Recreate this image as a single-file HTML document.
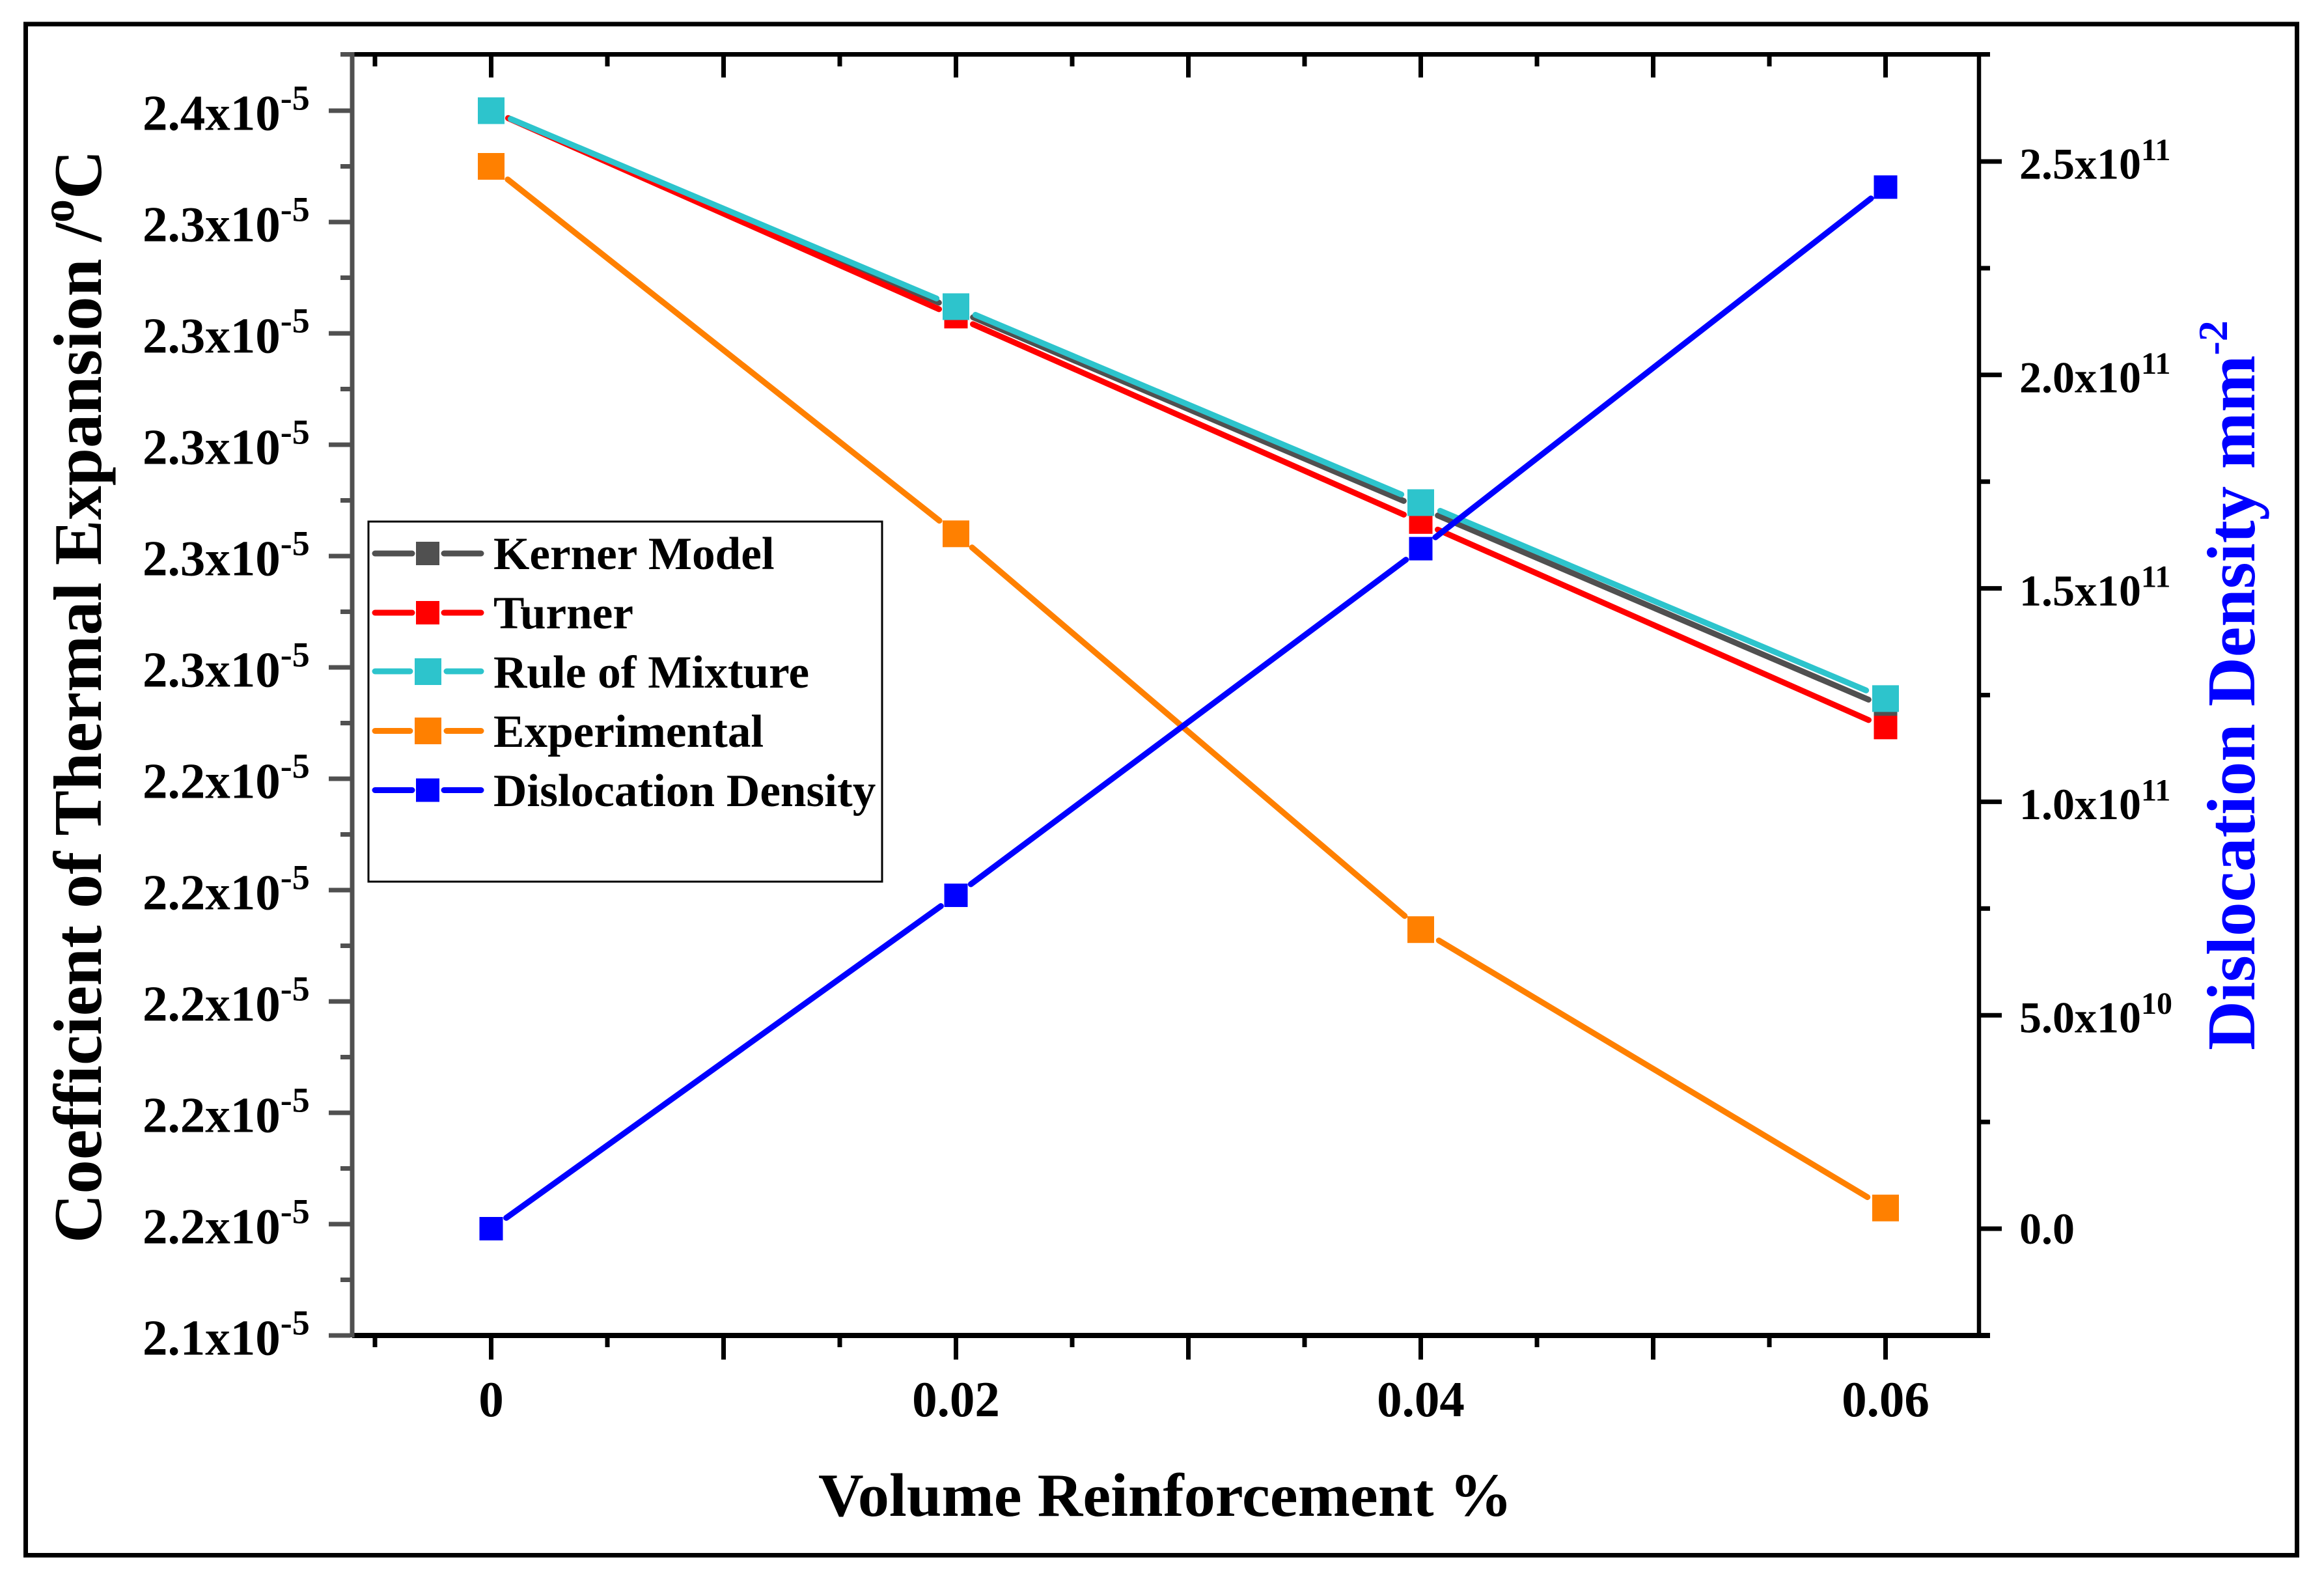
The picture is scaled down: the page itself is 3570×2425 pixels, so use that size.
<!DOCTYPE html>
<html lang="en">
<head>
<meta charset="utf-8">
<title>Coefficient of Thermal Expansion and Dislocation Density</title>
<style>
html,body{margin:0;padding:0;background:#fff;}
svg{display:block;}
text{font-family:"Liberation Serif",serif;font-weight:bold;fill:#000;}
</style>
</head>
<body>
<svg id="chart" xmlns="http://www.w3.org/2000/svg" width="3570" height="2425" viewBox="0 0 3570 2425">
  <rect x="0" y="0" width="3570" height="2425" fill="#fff"/>
  <rect x="39.5" y="37" width="3489" height="2351.5" fill="none" stroke="#000" stroke-width="7"/>
  <g id="axes"></g>
  <g id="series"></g>

  <text x="1257" y="2328" font-size="94.5" textLength="1066" lengthAdjust="spacingAndGlyphs">Volume Reinforcement %</text>
  <text transform="translate(155 1909) rotate(-90)" font-size="104.6">Coefficient of Thermal Expansion /<tspan font-size="72" dy="-42">o</tspan><tspan dy="42">C</tspan></text>
  <text transform="translate(3463 1613) rotate(-90)" font-size="105" style="fill:#0000ff">Dislocation Density mm<tspan font-size="64" dy="-42" style="fill:#0000ff">-2</tspan></text>

  <g>
    <rect x="566" y="801" width="789" height="553" fill="#fff" stroke="#000" stroke-width="3"/>
    <g>
      <path d="M576 850H633M682 850H739" stroke="#505050" stroke-width="9" stroke-linecap="round" fill="none"/>
      <rect x="639" y="832" width="36" height="36" fill="#505050"/>
      <text x="758" y="874" font-size="71.2">Kerner Model</text>
    </g>
    <g>
      <path d="M576 941H633M682 941H739" stroke="#ff0000" stroke-width="9" stroke-linecap="round" fill="none"/>
      <rect x="639" y="923" width="36" height="36" fill="#ff0000"/>
      <text x="758" y="965" font-size="71.2">Turner</text>
    </g>
    <g>
      <path d="M576 1031H630M686 1031H739" stroke="#2dc4cc" stroke-width="9" stroke-linecap="round" fill="none"/>
      <rect x="637" y="1011" width="41" height="41" fill="#2dc4cc"/>
      <text x="758" y="1056" font-size="71.2">Rule of Mixture</text>
    </g>
    <g>
      <path d="M576 1122.5H630M686 1122.5H739" stroke="#ff8000" stroke-width="9" stroke-linecap="round" fill="none"/>
      <rect x="637" y="1102" width="41" height="41" fill="#ff8000"/>
      <text x="758" y="1147" font-size="71.2">Experimental</text>
    </g>
    <g>
      <path d="M576 1213.5H633M682 1213.5H739" stroke="#0000ff" stroke-width="9" stroke-linecap="round" fill="none"/>
      <rect x="639" y="1195.5" width="36" height="36" fill="#0000ff"/>
      <text x="758" y="1238" font-size="71.2">Dislocation Density</text>
    </g>
  </g>
</svg>
<script>
// ---- chart data ----
const categories = [0, 0.02, 0.04, 0.06];
const kerner = [2.4, 2.3642, 2.3286, 2.2929];
const turner = [2.4, 2.363, 2.3261, 2.2892];
const ruleOfMixture = [2.4, 2.3648, 2.3296, 2.2944];
const experimental = [2.39, 2.324, 2.2529, 2.2029];
const dislocation = [0, 0.781, 1.593, 2.44];

const leftTickValues = [2.4, 2.38, 2.36, 2.34, 2.32, 2.3, 2.28, 2.26, 2.24, 2.22, 2.2, 2.18];
const leftTickLabels = ["2.4", "2.3", "2.3", "2.3", "2.3", "2.3", "2.2", "2.2", "2.2", "2.2", "2.2", "2.1"];
const rightTickValues = [2.5, 2, 1.5, 1, 0.5, 0];
const rightTickLabels = ["2.5", "2.0", "1.5", "1.0", "5.0", "0.0"];
const rightTickExponents = ["11", "11", "11", "11", "10", ""];
const xTickValues = [0, 0.01, 0.02, 0.03, 0.04, 0.05, 0.06];
const xTickLabels = ["0", "", "0.02", "", "0.04", "", "0.06"];

// ---- axis functions ----
const NS = 'http://www.w3.org/2000/svg';
function xPos(v) { return 754.5 + (v / 0.01) * 357; }
function yLeft(v) { return 2051 - ((v - 2.18) / 0.02) * 171; }
function yRight(v) { return 1887 - (v / 0.5) * 327.8; }

const axes = document.getElementById('axes');
const seriesLayer = document.getElementById('series');

function line(parent, x1, y1, x2, y2, color, width, name) {
  const el = document.createElementNS(NS, 'line');
  el.setAttribute('x1', x1);
  el.setAttribute('y1', y1);
  el.setAttribute('x2', x2);
  el.setAttribute('y2', y2);
  el.setAttribute('stroke', color);
  el.setAttribute('stroke-width', width);
  
  
  parent.appendChild(el);
  return el;
}

function label(main, x, y, size, anchor, sup, supSize, supDy, name) {
  const t = document.createElementNS(NS, 'text');
  t.setAttribute('x', x);
  t.setAttribute('y', y);
  t.setAttribute('font-size', size);
  t.setAttribute('text-anchor', anchor);
  
  
  t.textContent = main;
  if (sup) {
    const s = document.createElementNS(NS, 'tspan');
    s.setAttribute('font-size', supSize);
    s.setAttribute('dy', supDy);
    s.textContent = sup;
    t.appendChild(s);
  }
  axes.appendChild(t);
}

const GRAY = '#505050', BLACK = '#000';

// axis spines
line(axes, 538, 83.5, 3057, 83.5, BLACK, 7, 'top-axis-line');
line(axes, 541, 2051, 3057, 2051, BLACK, 8, 'x-axis-line');
line(axes, 3040, 80, 3040, 2054, BLACK, 6.5, 'right-y-axis-line');
line(axes, 541, 80, 541, 2054, GRAY, 7, 'left-y-axis-line');
line(axes, 523, 83.5, 538, 83.5, GRAY, 7, 'left-y-minor-tick');

// x ticks, bottom and top
xTickValues.forEach(function (v, i) {
  const x = xPos(v);
  line(axes, x, 2054, x, 2088, BLACK, 7, 'x-major-tick');
  line(axes, x, 87, x, 119, BLACK, 7, 'top-major-tick');
  const mx = xPos(v - 0.005);
  line(axes, mx, 2054, mx, 2069, BLACK, 7, 'x-minor-tick');
  line(axes, mx, 87, mx, 102, BLACK, 7, 'top-minor-tick');
  if (xTickLabels[i]) {
    label(xTickLabels[i], x, 2175, 77, 'middle', '', 0, 0, 'x-tick-label');
  }
});
const lastMinorX = xPos(0.055);
line(axes, lastMinorX, 2054, lastMinorX, 2069, BLACK, 7, 'x-minor-tick');
line(axes, lastMinorX, 87, lastMinorX, 102, BLACK, 7, 'top-minor-tick');

// left ticks
leftTickValues.forEach(function (v, i) {
  const y = yLeft(v);
  line(axes, 505, y, 538, y, GRAY, 7, 'left-y-major-tick');
  if (i < leftTickValues.length - 1) {
    const my = yLeft(v - 0.01);
    line(axes, 523, my, 538, my, GRAY, 7, 'left-y-minor-tick');
  }
  label(leftTickLabels[i] + 'x10', 219, y + 29.5, 77, 'start', '-5', 54, -31, 'left-y-tick-label');
});

// right ticks
rightTickValues.forEach(function (v, i) {
  const y = yRight(v);
  line(axes, 3043, y, 3075, y, BLACK, 7, 'right-y-major-tick');
  if (v > 0) {
    const my = yRight(v - 0.25);
    line(axes, 3043, my, 3057, my, BLACK, 7, 'right-y-minor-tick');
  }
  if (rightTickExponents[i]) {
    label(rightTickLabels[i] + 'x10', 3102, y + 26.5, 68, 'start', rightTickExponents[i], 48, -28.5, 'right-y-tick-label');
  } else {
    label(rightTickLabels[i], 3102, y + 23, 68, 'start', '', 0, 0, 'right-y-tick-label');
  }
});

// series
function drawSeries(values, yFn, color, size, name) {
  const g = document.createElementNS(NS, 'g');
  
  
  seriesLayer.appendChild(g);
  const gap = size * 0.79;
  const pts = values.map(function (v, i) { return [xPos(categories[i]), yFn(v)]; });
  for (let i = 0; i < pts.length - 1; i++) {
    const dx = pts[i + 1][0] - pts[i][0];
    const dy = pts[i + 1][1] - pts[i][1];
    const len = Math.sqrt(dx * dx + dy * dy);
    const ux = dx / len, uy = dy / len;
    const seg = line(g, pts[i][0] + ux * gap, pts[i][1] + uy * gap, pts[i + 1][0] - ux * gap, pts[i + 1][1] - uy * gap, color, 9, name + '-segment');
    seg.setAttribute('stroke-linecap', 'round');
  }
  pts.forEach(function (p) {
    const r = document.createElementNS(NS, 'rect');
    r.setAttribute('x', p[0] - size / 2);
    r.setAttribute('y', p[1] - size / 2);
    r.setAttribute('width', size);
    r.setAttribute('height', size);
    r.setAttribute('fill', color);
    
    
    g.appendChild(r);
  });
}

drawSeries(kerner, yLeft, '#505050', 36, 'kerner-series');
drawSeries(turner, yLeft, '#ff0000', 36, 'turner-series');
drawSeries(ruleOfMixture, yLeft, '#2dc4cc', 41, 'rule-of-mixture-series');
drawSeries(experimental, yLeft, '#ff8000', 41, 'experimental-series');
drawSeries(dislocation, yRight, '#0000ff', 36, 'dislocation-density-series');
</script>
</body>
</html>
